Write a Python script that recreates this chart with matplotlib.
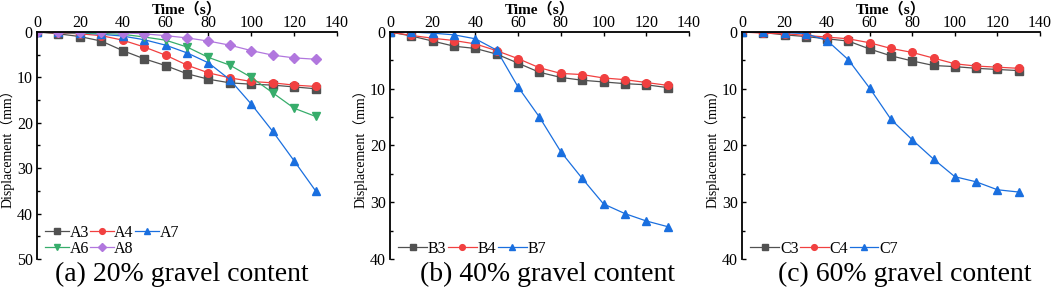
import matplotlib
matplotlib.use("Agg")
import matplotlib.pyplot as plt
from matplotlib.ticker import MultipleLocator

plt.rcParams["font.family"] = ["Liberation Serif", "Noto Sans CJK SC"]

time = [0, 10, 20, 30, 40, 50, 60, 70, 80, 90, 100, 110, 120, 130]

# (a) 20% gravel content
a3 = [0, 0.4, 1.0, 2.0, 4.1, 5.9, 7.4, 9.2, 10.4, 11.2, 11.5, 11.7, 12.1, 12.5]
a4 = [0, 0.2, 0.4, 0.8, 1.8, 3.3, 5.1, 7.3, 9.0, 10.1, 10.9, 11.2, 11.7, 12.0]
a7 = [0, 0.1, 0.2, 0.5, 0.9, 1.7, 2.9, 4.6, 6.8, 10.5, 15.9, 21.9, 28.4, 35.0]
a6 = [0, 0.1, 0.2, 0.3, 0.5, 1.1, 1.8, 3.3, 5.6, 7.3, 10.0, 13.4, 16.8, 18.6]
a8 = [0, 0.0, 0.0, 0.1, 0.2, 0.4, 0.8, 1.3, 2.0, 2.9, 4.1, 5.1, 5.7, 6.0]

# (b) 40% gravel content
b3 = [0, 0.7, 1.6, 2.5, 2.9, 3.9, 5.5, 7.1, 8.0, 8.5, 8.8, 9.1, 9.3, 9.8]
b4 = [0, 0.6, 1.1, 1.5, 2.1, 3.3, 4.7, 6.3, 7.3, 7.5, 8.1, 8.4, 8.9, 9.4]
b7 = [0, 0.0, 0.2, 0.5, 1.2, 3.2, 9.7, 15.0, 21.1, 25.8, 30.3, 32.0, 33.3, 34.3]

# (c) 60% gravel content
c3 = [0, 0.1, 0.5, 0.8, 1.2, 1.6, 3.0, 4.2, 5.1, 5.9, 6.1, 6.4, 6.6, 6.8]
c4 = [0, 0.2, 0.3, 0.6, 0.9, 1.2, 1.9, 2.9, 3.6, 4.6, 5.6, 6.0, 6.2, 6.4]
c7 = [0, 0.0, 0.1, 0.3, 1.5, 4.9, 9.9, 15.4, 19.0, 22.4, 25.5, 26.4, 27.8, 28.2]

GRAY, RED, BLUE, GREEN, VIOLET = "#515151", "#F14040", "#1A6FDF", "#37AD6B", "#B177DE"

panels = [
    {"pos": [0.0352, 0.1309, 0.2852, 0.7617], "ymax": 50, "xcap": 182,
     "caption": "(a) 20% gravel content",
     "series": [("A3", a3, GRAY, "s"), ("A4", a4, RED, "o"), ("A7", a7, BLUE, "^"),
                ("A6", a6, GREEN, "v"), ("A8", a8, VIOLET, "D")],
     "legend_order": ["A3", "A6", "A4", "A8", "A7"], "hlen": 1.45},
    {"pos": [0.3707, 0.1309, 0.2842, 0.7617], "ymax": 40, "xcap": 548,
     "caption": "(b) 40% gravel content",
     "series": [("B3", b3, GRAY, "s"), ("B4", b4, RED, "o"), ("B7", b7, BLUE, "^")],
     "legend_order": ["B3", "B4", "B7"], "hlen": 1.8},
    {"pos": [0.7053, 0.1309, 0.2833, 0.7617], "ymax": 40, "xcap": 905,
     "caption": "(c) 60% gravel content",
     "series": [("C3", c3, GRAY, "s"), ("C4", c4, RED, "o"), ("C7", c7, BLUE, "^")],
     "legend_order": ["C3", "C4", "C7"], "hlen": 1.8},
]

fig = plt.figure(figsize=(10.52, 2.98), dpi=100)

for p in panels:
    ax = fig.add_axes(p["pos"])
    lines = {}
    for name, vals, col, mk in p["series"]:
        ln, = ax.plot(time, vals, color=col, marker=mk,
                      markersize=5.5 if mk != "D" else 5,
                      linewidth=0.9, label=name)
        lines[name] = ln
    ax.set_xlim(0, 140)
    ax.set_ylim(p["ymax"], 0)
    ax.xaxis.tick_top()
    ax.xaxis.set_label_position("top")
    ax.xaxis.set_major_locator(MultipleLocator(20))
    ax.yaxis.set_major_locator(MultipleLocator(10))
    ax.yaxis.set_minor_locator(MultipleLocator(5))
    ax.spines["right"].set_visible(False)
    ax.spines["bottom"].set_visible(False)
    for s in ("left", "top"):
        ax.spines[s].set_linewidth(1.3)
    ax.tick_params(axis="both", which="both", direction="in", labelsize=11.5, width=1.0)
    ax.tick_params(axis="x", pad=1, length=3)
    ax.tick_params(axis="y", which="major", length=3, pad=3)
    ax.tick_params(axis="y", which="minor", length=2)
    ax.set_xlabel("Time（s）", fontsize=11, fontweight="bold", labelpad=1)
    ax.set_ylabel("Displacement（mm）", fontsize=10)
    ax.yaxis.set_label_coords(-0.075, 0.5)
    order = [lines[n] for n in p["legend_order"]]
    ax.legend(order, [l.get_label() for l in order], loc="lower left", ncol=3,
              frameon=False, fontsize=11.5, handlelength=p["hlen"], handletextpad=0.05,
              columnspacing=0.1, labelspacing=0.0, borderaxespad=0.0, borderpad=0.15,
              markerscale=0.75, bbox_to_anchor=(0.02, 0.0))
    fig.text(p["xcap"] / 1052, 0.078, p["caption"], ha="center", va="center", fontsize=20)

fig.savefig("out.png", dpi=100)
